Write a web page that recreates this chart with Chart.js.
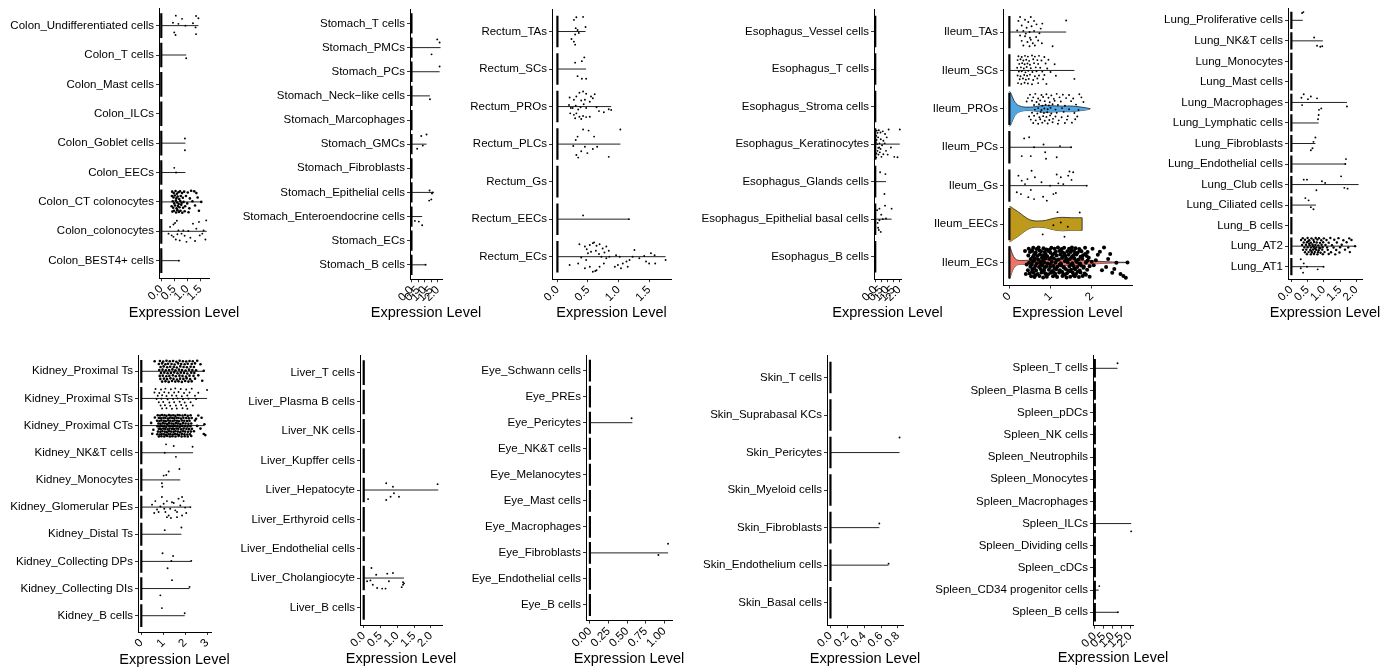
<!DOCTYPE html>
<html><head><meta charset="utf-8">
<script src="https://cdn.jsdelivr.net/npm/chart.js@4.4.1/dist/chart.umd.min.js"></script>
<style>
html,body{margin:0;padding:0;background:#fff;width:1384px;height:668px;overflow:hidden;position:relative}
canvas{position:absolute}
</style></head><body>
<script>
// ---------- DATA (points are flat pairs: expression value, vertical jitter in category units) ----------
const xTitle = "Expression Level";
const colonCells = ["Colon_Undifferentiated cells","Colon_T cells","Colon_Mast cells","Colon_ILCs","Colon_Goblet cells","Colon_EECs","Colon_CT colonocytes","Colon_colonocytes","Colon_BEST4+ cells"];
const colonMax = [1.43,0.96,0,0,0.93,0.93,1.54,1.75,0.68];
const colonTicks = [0,0.5,1,1.5];
const colonTickLabels = ["0.0","0.5","1.0","1.5"];
const colonPts = [
 [.56,-.34,.80,-.23,1.34,-.33,1.43,-.25,.45,-.10,.66,-.06,.93,0,1.22,-.08,1.32,.06,.50,.23,.55,.32,1.34,.29],
 [.96,.11],[],[],
 [.91,-.16,.91,.24],
 [.50,-.16,.57,0],
 [.42,-.35,.48,-.3,.55,-.37,.6,-.28,.66,-.33,.72,-.36,.8,-.3,.88,-.35,1.02,-.32,1.15,-.38,1.27,-.36,1.35,-.3,
  .41,-.2,.47,-.15,.52,-.22,.58,-.12,.63,-.18,.69,-.1,.75,-.2,.83,-.14,.95,-.2,1.1,-.12,1.4,-.15,
  .44,-.02,.5,.05,.56,-.05,.61,.02,.67,.07,.73,-.03,.78,.04,.86,0,1.0,.05,1.2,-.02,1.54,0,
  .4,.15,.46,.2,.53,.12,.59,.22,.64,.14,.7,.18,.77,.1,.84,.2,.92,.15,1.08,.22,1.3,.12,
  .43,.33,.49,.3,.57,.36,.62,.28,.68,.34,.74,.3,.81,.37,.9,.32,1.05,.35,1.45,.3],
 [.34,-.15,.47,-.23,.53,-.28,.66,-.03,.85,-.03,1.04,-.01,1.22,-.26,1.45,-.32,1.73,-.37,1.63,-.03,1.58,.08,1.70,.28,.47,.19,.56,.28,.71,.31,.78,.08,.97,.36,1.12,.22,1.48,.14,1.35,-.09,.28,.08,.40,.14,.6,-.36,.9,.15,1.3,.33,.62,.1],
 [.68,0]
];

const stomachCells = ["Stomach_T cells","Stomach_PMCs","Stomach_PCs","Stomach_Neck\u2212like cells","Stomach_Marcophages","Stomach_GMCs","Stomach_Fibroblasts","Stomach_Epithelial cells","Stomach_Enteroendocrine cells","Stomach_ECs","Stomach_B cells"];
const stomachMax = [0,2.2,2.13,1.4,0,1.14,0,1.62,0.81,0,1.07];
const stomachTicks = [0,0.5,1,1.5,2];
const stomachTickLabels = ["0.0","0.5","1.0","1.5","2.0"];
const stomachPts = [
 [],[1.95,-.34,2.13,-.21,1.52,.28],[2.13,-.22],[1.4,.14],[],
 [.74,-.34,1.14,-.4,.86,.06,.43,.19],[],
 [1.37,-.08,1.55,.04,1.5,.29,1.34,.34,1.62,0],
 [.26,.18,.56,.21,.81,.36],[],[1.07,0]
];

const rectumCells = ["Rectum_TAs","Rectum_SCs","Rectum_PROs","Rectum_PLCs","Rectum_Gs","Rectum_EECs","Rectum_ECs"];
const rectumMax = [0.46,0.47,0.88,1.03,0,1.17,1.77];
const rectumTicks = [0,0.5,1,1.5];
const rectumTickLabels = ["0.0","0.5","1.0","1.5"];
const rectumPts = [
 [.27,-.31,.31,-.38,.42,-.39,.46,-.12,.3,-.09,.35,.04,.29,.08,.23,.2,.27,.27,.29,.35,.33,-.04],
 [.29,-.17,.4,-.21,.44,-.31,.33,.19,.4,.26,.47,.26],
 [.2,-.24,.31,-.27,.36,-.37,.42,-.4,.47,-.34,.55,-.27,.61,-.33,.27,-.18,.39,-.16,.45,-.18,.53,-.13,.19,-.04,.22,.04,.25,.04,.3,-.02,.38,.02,.47,.04,.64,.02,.68,.12,.84,.07,.88,.09,.76,.15,.21,.18,.27,.22,.31,.18,.36,.27,.42,.25,.47,.28,.29,.31,.39,.33,.53,.27,.34,.08,.43,-.06,.58,-.22],
 [.42,-.39,.51,-.36,1.03,-.39,.33,-.2,.6,-.2,.3,-.11,.26,.05,.45,.07,.65,.07,.58,.13,.39,.19,.49,.24,.31,.29,.34,.36,.84,.34],
 [],
 [.42,-.1,1.17,0],
 [.36,-.33,.45,-.27,.48,-.2,.53,-.31,.58,-.36,.64,-.29,.69,-.33,.74,-.22,.8,-.27,.5,-.09,.55,-.13,.63,-.16,.68,-.07,.72,0,.77,-.11,.84,-.16,.39,.02,.47,.09,.2,.22,.34,.18,.45,.31,.53,.27,.58,.4,.64,.36,.69,.27,.76,.18,.8,.04,.85,0,.96,-.04,1.02,0,.99,.22,1.07,.18,1.13,.13,.94,.27,1.04,.31,1.15,.27,1.18,.09,1.23,0,1.26,-.18,1.34,.04,1.42,-.02,1.45,.13,1.53,-.09,1.59,-.04,1.5,.18,1.6,.18,1.77,.09,.62,.38,.6,-.38]
];

const esophagusCells = ["Esophagus_Vessel cells","Esophagus_T cells","Esophagus_Stroma cells","Esophagus_Keratinocytes","Esophagus_Glands cells","Esophagus_Epithelial basal cells","Esophagus_B cells"];
const esophagusMax = [0,0,0,2.05,0.9,1.37,0];
const esophagusTicks = [0,0.5,1,1.5,2];
const esophagusTickLabels = ["0.0","0.5","1.0","1.5","2.0"];
const esophagusPts = [
 [],[],[],
 [.13,-.36,.3,-.37,.44,-.31,.63,-.34,1.12,-.39,2.05,-.39,.82,-.27,.08,-.22,.24,-.18,.46,-.13,.68,-.09,.96,-.18,.16,0,.35,-.02,.57,.03,.79,-.02,.19,.18,.38,.22,.27,.28,.52,.34,.68,.27,1.04,.28,1.59,.34,1.86,.35,.08,.36,.33,.09,.11,-.11,.44,.13,.9,.18,1.31,.09,.2,-.3,.1,.25,.25,.1,.05,-.05],
 [.41,-.25,.85,-.2,.77,.33],
 [.16,-.24,.35,-.28,.82,-.36,1.37,-.28,.9,-.02,.63,0,.35,.03,.3,.29,.46,.34,.24,.23,.2,.1,.5,-.12],
 []
];

const ileumCells = ["Ileum_TAs","Ileum_SCs","Ileum_PROs","Ileum_PCs","Ileum_Gs","Ileum_EECs","Ileum_ECs"];
const ileumMax = [1.38,1.58,1.96,1.5,1.88,1.76,2.87];
const ileumTicks = [0,1,2];
const ileumTickLabels = ["0","1","2"];
const ileumPts = [
 [.26,-.39,.52,-.39,.38,-.32,.46,-.26,.6,-.29,.66,-.2,.8,-.22,.3,-.17,.42,-.11,.54,-.15,.34,-.03,.49,0,.6,-.03,.73,.03,.26,.09,.38,.11,.5,.15,.65,.13,.3,.23,.44,.26,.57,.29,.7,.22,.34,.35,.49,.37,1.05,.37,1.38,-.3,.22,-.29,.19,-.04,.76,-.09,.4,.04,.62,.35,.79,.29,.52,.2],
 [.22,-.37,.3,-.35,.38,-.38,.45,-.36,.55,-.39,.62,-.36,.72,-.38,.85,-.35,
  .2,-.27,.27,-.29,.34,-.26,.41,-.28,.48,-.25,.58,-.29,.68,-.27,.78,-.26,.95,-.28,
  .24,-.17,.31,-.19,.37,-.16,.44,-.18,.5,-.15,.6,-.19,.7,-.17,.88,-.18,1.1,-.16,
  .19,-.07,.28,-.08,.35,-.05,.42,-.09,.52,-.06,.64,-.08,.75,-.07,.92,-.05,
  .23,.03,.3,.02,.39,.05,.46,.01,.56,.04,.66,.02,.8,.03,1.0,.04,
  .2,.13,.27,.15,.36,.12,.43,.14,.5,.11,.62,.15,.72,.13,.85,.12,1.13,.14,
  .25,.23,.33,.21,.4,.24,.47,.22,.58,.25,.68,.21,.82,.23,1.58,.22,
  .21,.33,.29,.35,.37,.32,.45,.34,.55,.36,.7,.33,.9,.35],
 [.5,-.37,.63,-.39,.78,-.36,.9,-.38,1.02,-.35,1.15,-.39,1.3,-.37,1.45,-.36,1.7,-.38,
  .45,-.28,.58,-.3,.7,-.27,.82,-.31,.95,-.29,1.08,-.26,1.22,-.3,1.38,-.28,1.55,-.27,1.75,-.3,
  .42,-.19,.55,-.21,.66,-.18,.75,-.22,.86,-.2,.98,-.17,1.1,-.21,1.25,-.19,1.5,-.2,1.8,-.18,
  .6,-.1,.72,-.12,.8,-.08,.88,-.11,.96,-.09,1.05,-.12,1.18,-.1,1.35,-.08,1.62,-.11,
  .62,.02,.7,-.02,.78,.03,.85,-.01,.93,.01,1.0,-.03,1.12,.02,1.28,-.02,1.45,.01,1.68,.03,
  .55,.1,.68,.12,.76,.08,.84,.11,.92,.09,1.02,.12,1.15,.1,1.32,.08,1.58,.11,
  .48,.2,.6,.18,.73,.22,.82,.19,.9,.21,.99,.17,1.12,.2,1.27,.22,1.42,.19,1.65,.2,
  .52,.28,.64,.3,.75,.27,.86,.31,.97,.29,1.06,.26,1.2,.3,1.4,.28,1.6,.27,
  .58,.37,.7,.39,.8,.36,.93,.38,1.05,.35,1.18,.39,1.35,.37,1.52,.36],
 [.36,-.23,.48,-.26,.6,0,.83,-.07,1.23,-.03,.3,.23,.52,.23,.87,.13,.89,.3,1.15,.26,1.5,0],
 [.22,-.26,.3,-.13,.38,-.04,.18,.17,.28,.22,.46,.3,.52,.11,.6,.35,.78,-.09,.82,.29,1.15,-.29,1.25,-.22,1.19,-.06,1.31,-.04,1.07,.22,1.13,.19,1.46,-.37,1.55,-.35,1.51,-.15,1.43,-.26,1.88,0,.62,-.22,.44,-.17,.99,0,.91,.39,.54,-.39],
 [1.17,-.31,1.71,-.3,1.25,-.04,1.07,.03,1.42,.07,.81,.27,1.34,.33],
 [.47,-.36,.58,-.38,.66,-.35,.71,-.39,.83,-.37,.9,-.34,1.02,-.38,1.1,-.36,1.18,-.39,1.27,-.35,1.33,-.38,1.45,-.36,1.52,-.39,1.61,-.37,1.7,-.35,1.84,-.38,2.02,-.36,2.3,-.39,
  .5,-.27,.55,-.3,.64,-.26,.77,-.29,.86,-.27,.95,-.3,1.0,-.25,1.13,-.28,1.22,-.3,1.3,-.26,1.41,-.29,1.49,-.27,1.57,-.3,1.66,-.26,1.75,-.29,1.9,-.27,2.2,-.28,
  .46,-.18,.6,-.2,.68,-.17,.74,-.21,.81,-.19,.92,-.16,1.05,-.2,1.15,-.18,1.24,-.21,1.36,-.17,1.44,-.2,1.55,-.18,1.63,-.21,1.79,-.19,1.88,-.17,2.15,-.2,2.45,-.22,
  .52,-.09,.62,-.11,.7,-.08,.79,-.12,.88,-.1,.97,-.09,1.08,-.11,1.2,-.08,1.28,-.12,1.38,-.1,1.47,-.09,1.58,-.11,1.68,-.08,1.77,-.1,1.93,-.12,2.4,-.09,2.1,-.06,
  .48,.01,.57,-.02,.67,.02,.75,-.01,.85,0,.93,.03,1.03,-.02,1.12,.01,1.25,.02,1.35,-.03,1.42,0,1.53,.02,1.64,-.01,1.72,.03,1.86,0,2.0,-.02,2.6,.01,2.87,0,
  .51,.11,.63,.09,.72,.12,.8,.08,.9,.1,.99,.12,1.07,.09,1.17,.11,1.26,.08,1.32,.12,1.46,.1,1.56,.09,1.65,.12,1.74,.08,1.81,.11,1.95,.1,2.05,.07,2.35,.12,
  .45,.2,.56,.18,.65,.21,.76,.17,.84,.2,.96,.19,1.04,.22,1.14,.18,1.23,.2,1.37,.17,1.43,.21,1.5,.19,1.6,.18,1.71,.21,1.89,.19,2.25,.2,2.55,.17,
  .49,.29,.59,.27,.69,.3,.78,.26,.87,.28,.94,.31,1.01,.27,1.11,.29,1.21,.26,1.31,.3,1.4,.28,1.54,.27,1.62,.3,1.73,.26,1.83,.29,2.5,.27,2.7,.3,
  .53,.36,.61,.38,.73,.35,.82,.39,.91,.37,1.06,.36,1.16,.38,1.29,.35,1.39,.39,1.48,.37,1.59,.36,1.69,.38,1.78,.35,1.95,.37,2.77,.35,2.83,.4,.4,.3,.38,-.3,.42,.05,
  .55,-.32,.73,-.31,.98,-.33,1.24,-.32,1.5,-.33,1.72,-.31,.62,-.23,.88,-.22,1.1,-.24,1.34,-.23,1.6,-.24,1.84,-.22,
  .57,-.14,.84,-.15,1.02,-.13,1.3,-.15,1.52,-.14,1.73,-.15,.6,-.05,.82,-.04,1.15,-.06,1.4,-.05,1.62,-.04,1.9,-.05,
  .54,.06,.77,.05,1.0,.04,1.22,.06,1.5,.05,1.7,.04,.6,.15,.86,.14,1.1,.15,1.33,.14,1.58,.16,1.8,.14,
  .55,.24,.8,.23,1.07,.25,1.28,.24,1.47,.23,1.66,.24,.63,.33,.89,.32,1.12,.33,1.35,.32,1.56,.33,1.86,.32]
];
const ileumPROsViolin = [0,.46, .03,.42, .07,.32, .11,.22, .16,.14, .22,.09, .3,.06, .4,.045, .5,.045, .6,.055, .7,.07, .8,.085, .9,.09, 1.0,.085, 1.15,.075, 1.3,.07, 1.45,.075, 1.6,.065, 1.75,.045, 1.88,.025, 1.96,.004];
const ileumEECsViolin = [0,.46, .05,.44, .1,.4, .2,.33, .3,.25, .4,.17, .5,.11, .6,.085, .7,.08, .8,.085, .9,.1, 1.0,.13, 1.1,.155, 1.2,.17, 1.3,.175, 1.4,.17, 1.5,.165, 1.6,.165, 1.7,.165, 1.76,.165];
const ileumECsViolin = [0,.43, .03,.36, .06,.26, .1,.16, .15,.09, .2,.06, .3,.05, .5,.06, .7,.07, .9,.08, 1.1,.085, 1.3,.08, 1.5,.075, 1.7,.065, 1.9,.05, 2.1,.035, 2.3,.022, 2.5,.013, 2.7,.006, 2.87,.002];

const lungCells = ["Lung_Proliferative cells","Lung_NK&T cells","Lung_Monocytes","Lung_Mast cells","Lung_Macrophages","Lung_Lymphatic cells","Lung_Fibroblasts","Lung_Endothelial cells","Lung_Club cells","Lung_Ciliated cells","Lung_B cells","Lung_AT2","Lung_AT1"];
const lungMax = [0.35,0.97,0,0,1.71,0.84,0.74,1.68,2.07,0.76,0,1.96,0.99];
const lungTicks = [0,0.5,1,1.5,2];
const lungTickLabels = ["0.0","0.5","1.0","1.5","2.0"];
const lungPts = [
 [.33,-.36,.37,-.4],
 [.7,-.16,.79,.24,.89,.29,.95,.26],
 [],[],
 [.38,-.4,.31,-.23,.51,-.16,.6,-.29,.79,-.2,.33,.13,1.71,.2,.92,.29,.85,.36],
 [.84,-.39,.82,-.18],
 [.74,-.29,.68,-.08,.65,.23,.6,.33],
 [1.68,-.24,1.66,0],
 [.38,-.24,.48,-.24,.94,-.16,1.04,-.08,1.53,-.4,1.63,.16,1.73,.2,.77,.28],
 [.43,-.34,.53,-.23,.6,.1,.68,.2],
 [],
 [.35,-.39,.5,-.4,.62,-.38,.75,-.4,.85,-.39,1.0,-.38,1.2,-.4,1.45,-.39,1.78,-.38,
  .3,-.3,.42,-.31,.55,-.29,.68,-.3,.8,-.32,.92,-.29,1.08,-.3,1.32,-.31,1.6,-.29,1.85,-.3,
  .38,-.18,.48,-.19,.6,-.17,.7,-.2,.78,-.18,.88,-.16,.98,-.19,1.15,-.17,1.4,-.18,1.7,-.19,
  .33,-.06,.45,-.07,.56,-.05,.65,-.08,.74,-.06,.83,-.04,.93,-.07,1.05,-.06,1.25,-.05,1.55,-.07,1.96,0,
  .4,.06,.5,.05,.6,.07,.69,.04,.77,.06,.86,.08,.96,.05,1.1,.06,1.3,.07,1.5,.05,1.75,.06,
  .36,.18,.46,.17,.58,.19,.67,.16,.76,.18,.84,.2,.95,.17,1.12,.18,1.38,.19,1.65,.17,
  .42,.3,.53,.29,.63,.31,.72,.28,.82,.3,.9,.32,1.02,.29,1.22,.3,1.48,.31,1.8,.29,
  .48,.39,.6,.4,.7,.38,.8,.4,.97,.39,1.15,.38,1.35,.4,
  .55,-.12,.66,.0,.73,.12,.62,.24,.88,.1,.52,-.24],
 [.29,-.36,.38,-.16,.48,0,.29,.08,.36,.29,.81,.13,.99,0]
];

const kidneyCells = ["Kidney_Proximal Ts","Kidney_Proximal STs","Kidney_Proximal CTs","Kidney_NK&T cells","Kidney_Monocytes","Kidney_Glomerular PEs","Kidney_Distal Ts","Kidney_Collecting DPs","Kidney_Collecting DIs","Kidney_B cells"];
const kidneyMax = [2.85,3.0,2.88,2.36,1.78,2.24,1.83,2.28,2.2,1.98];
const kidneyTicks = [0,1,2,3];
const kidneyTickLabels = ["0","1","2","3"];
const kidneyPts = [
 [.85,-.38,1.0,-.36,1.15,-.39,1.3,-.37,1.45,-.38,1.6,-.35,1.75,-.39,1.9,-.37,2.05,-.36,2.2,-.38,2.35,-.37,2.55,-.39,.61,-.37,
  .8,-.27,.95,-.29,1.1,-.26,1.22,-.28,1.38,-.27,1.52,-.25,1.68,-.29,1.82,-.27,1.98,-.26,2.12,-.28,2.3,-.27,2.45,-.29,2.7,-.26,
  .88,-.16,1.02,-.18,1.18,-.15,1.32,-.17,1.48,-.16,1.62,-.14,1.78,-.18,1.93,-.16,2.08,-.15,2.25,-.17,2.4,-.16,
  .82,-.05,.97,-.06,1.12,-.04,1.27,-.05,1.42,-.07,1.56,-.04,1.72,-.06,1.86,-.05,2.02,-.03,2.18,-.06,2.33,-.05,2.5,-.04,2.85,-.02,
  .9,.06,1.05,.05,1.2,.07,1.35,.06,1.5,.04,1.65,.07,1.8,.05,1.95,.06,2.1,.08,2.28,.05,2.42,.06,
  .84,.17,.98,.16,1.14,.18,1.28,.17,1.44,.15,1.58,.18,1.74,.16,1.88,.17,2.04,.19,2.2,.16,2.38,.17,2.6,.15,
  .87,.28,1.03,.27,1.17,.29,1.33,.26,1.47,.28,1.63,.3,1.77,.27,1.92,.28,2.07,.26,2.23,.29,2.45,.27,
  .95,.38,1.1,.37,1.25,.39,1.4,.36,1.55,.38,1.7,.37,1.85,.39,2.0,.36,2.15,.38,2.3,.37,2.78,.35],
 [.65,-.35,.9,-.33,1.1,-.36,1.35,-.34,1.55,-.37,1.8,-.35,2.05,-.33,2.3,-.36,3.0,-.31,
  .6,-.22,.82,-.2,1.05,-.23,1.25,-.21,1.5,-.22,1.7,-.24,1.95,-.2,2.2,-.22,2.6,-.21,
  .75,-.1,.95,-.12,1.15,-.09,1.4,-.11,1.6,-.1,1.85,-.08,2.1,-.11,2.45,-.1,
  .7,.02,.92,.01,1.2,.03,1.45,.02,1.65,0,1.9,.03,2.15,.01,2.5,.02,
  .8,.14,1.0,.13,1.28,.15,1.5,.14,1.75,.12,1.98,.15,2.25,.14,
  .88,.26,1.08,.25,1.32,.27,1.58,.26,1.82,.24,2.05,.27,2.35,.26,
  .95,.37,1.15,.36,1.4,.38,1.62,.37,1.88,.36,2.1,.38],
 [.75,-.38,.86,-.37,.95,-.39,1.06,-.38,1.15,-.36,1.26,-.39,1.35,-.37,1.46,-.38,1.55,-.36,1.66,-.39,1.75,-.38,1.88,-.37,2.0,-.39,2.12,-.36,2.25,-.38,2.6,-.37,
  .8,-.28,.9,-.27,1.01,-.29,1.1,-.28,1.21,-.26,1.3,-.29,1.41,-.28,1.5,-.27,1.61,-.29,1.7,-.28,1.81,-.26,1.92,-.29,2.05,-.28,2.17,-.27,2.3,-.28,2.75,-.29,
  .72,-.18,.83,-.17,.92,-.19,1.03,-.18,1.12,-.16,1.23,-.19,1.32,-.18,1.43,-.17,1.52,-.19,1.63,-.18,1.72,-.16,1.85,-.19,1.96,-.18,2.09,-.17,2.2,-.18,2.45,-.19,
  .78,-.08,.87,-.07,.98,-.09,1.07,-.08,1.18,-.06,1.27,-.09,1.38,-.08,1.47,-.07,1.58,-.09,1.67,-.08,1.78,-.06,1.9,-.09,2.02,-.08,2.15,-.07,2.28,-.08,2.88,-.05,
  .74,.02,.85,.03,.94,.01,1.05,.02,1.14,.04,1.25,.01,1.34,.02,1.45,.03,1.54,.01,1.65,.02,1.76,.04,1.86,.01,1.98,.02,2.11,.03,2.24,.02,2.55,.01,
  .8,.12,.89,.13,1.0,.11,1.09,.12,1.2,.14,1.29,.11,1.4,.12,1.49,.13,1.6,.11,1.69,.12,1.82,.14,1.93,.11,2.06,.12,2.18,.13,2.31,.12,2.7,.11,
  .76,.22,.87,.23,.96,.21,1.07,.22,1.16,.24,1.27,.21,1.36,.22,1.47,.23,1.56,.21,1.67,.22,1.78,.24,1.9,.21,2.0,.22,2.13,.23,2.26,.22,2.4,.21,
  .73,.32,.84,.33,.93,.31,1.04,.32,1.13,.34,1.24,.31,1.33,.32,1.44,.33,1.53,.31,1.64,.32,1.73,.34,1.85,.31,1.97,.32,2.1,.33,2.22,.32,2.85,.31,
  .8,.4,.92,.39,1.05,.4,1.18,.38,1.3,.4,1.42,.39,1.56,.4,1.7,.38,1.84,.4,1.98,.39,2.12,.4,2.28,.38,
  .45,-.1,.55,.15,.5,.3,.62,-.3,2.92,.35,2.5,-.25],
 [1.13,-.31,1.48,-.25,2.34,-.22,1.07,0,1.58,.15],
 [1.74,-.4,1.25,-.31,1.14,-.18,1.02,-.16,.94,.12,.96,.25],
 [.49,-.09,.64,-.22,.72,.09,.79,.18,.94,-.37,1.02,-.12,1.1,.18,1.17,.37,1.25,.31,1.32,.06,1.4,-.18,1.48,-.15,1.55,.12,1.63,.37,1.7,-.31,1.78,-.06,1.86,-.37,1.93,-.22,2.0,.02,2.05,.22,2.24,0,.87,-.02,1.17,-.22,1.35,.4,1.63,.18,1.86,.31,.59,.22,1.05,.06],
 [1.83,-.25,1.07,-.15],
 [.97,-.3,1.45,-.2,1.37,-.02,1.2,.25,2.28,-.02],
 [1.4,-.31,.87,.25,2.2,-.06],
 [.94,-.28,1.98,-.09]
];

const liverCells = ["Liver_T cells","Liver_Plasma B cells","Liver_NK cells","Liver_Kupffer cells","Liver_Hepatocyte","Liver_Erthyroid cells","Liver_Endothelial cells","Liver_Cholangiocyte","Liver_B cells"];
const liverMax = [0,0,0,0,2.22,0,0,1.2,0];
const liverTicks = [0,0.5,1,1.5,2];
const liverTickLabels = ["0.0","0.5","1.0","1.5","2.0"];
const liverPts = [
 [],[],[],[],
 [.67,-.23,.87,-.11,2.2,-.2,.9,.11,.8,.23,.67,.34,1.05,.23,.13,.31],
 [],[],
 [.23,-.34,.37,-.11,.87,-.17,.7,-.15,.1,.11,.2,.08,.27,.23,.4,.34,.55,.36,.65,.36,.75,.11,1.17,.14,1.17,.23,1.13,.31,1.2,.18],
 []
];

const eyeCells = ["Eye_Schwann cells","Eye_PREs","Eye_Pericytes","Eye_NK&T cells","Eye_Melanocytes","Eye_Mast cells","Eye_Macrophages","Eye_Fibroblasts","Eye_Endothelial cells","Eye_B cells"];
const eyeMax = [0,0,0.57,0,0,0,0,1.05,0,0];
const eyeTicks = [0,0.25,0.5,0.75,1];
const eyeTickLabels = ["0.00","0.25","0.50","0.75","1.00"];
const eyePts = [[],[],[.56,-.17],[],[],[],[],[1.05,-.35,.92,.08],[],[]];

const skinCells = ["Skin_T cells","Skin_Suprabasal KCs","Skin_Pericytes","Skin_Myeloid cells","Skin_Fibroblasts","Skin_Endothelium cells","Skin_Basal cells"];
const skinMax = [0,0,0.82,0,0.58,0.69,0];
const skinTicks = [0,0.2,0.4,0.6,0.8];
const skinTickLabels = ["0.0","0.2","0.4","0.6","0.8"];
const skinPts = [[],[],[.82,-.4],[],[.58,-.11],[.69,-.04],[]];

const spleenCells = ["Spleen_T cells","Spleen_Plasma B cells","Spleen_pDCs","Spleen_NK cells","Spleen_Neutrophils","Spleen_Monocytes","Spleen_Macrophages","Spleen_ILCs","Spleen_Dividing cells","Spleen_cDCs","Spleen_CD34 progenitor cells","Spleen_B cells"];
const spleenMax = [1.28,0,0,0,0,0,0,2.05,0,0,0.22,1.3];
const spleenTicks = [0,0.5,1,1.5,2];
const spleenTickLabels = ["0.0","0.5","1.0","1.5","2.0"];
const spleenPts = [[1.28,-.23],[],[],[],[],[],[],[2.05,.35],[],[],[.25,-.18],[1.3,0]];

// ---------- LAYOUT ----------
const FONT = "'Liberation Sans', Arial, Helvetica, sans-serif";
const panels = [
 {cells:colonCells,max:colonMax,pts:colonPts,ticks:colonTicks,labels:colonTickLabels,xMin:-0.0875,xMax:1.8375,L:159,R:209,T:8.1,B:278.3,TY:313,dense:[6],denseR:1.3},
 {cells:stomachCells,max:stomachMax,pts:stomachPts,ticks:stomachTicks,labels:stomachTickLabels,xMin:-0.11,xMax:2.31,L:409.5,R:441,T:8.8,B:279.3,TY:313},
 {cells:rectumCells,max:rectumMax,pts:rectumPts,ticks:rectumTicks,labels:rectumTickLabels,xMin:-0.0885,xMax:1.8585,L:552.3,R:671.7,T:9.2,B:279.2,TY:313},
 {cells:esophagusCells,max:esophagusMax,pts:esophagusPts,ticks:esophagusTicks,labels:esophagusTickLabels,xMin:-0.1025,xMax:2.1525,L:874.3,R:901.7,T:9.2,B:279.2,TY:313},
 {cells:ileumCells,max:ileumMax,pts:ileumPts,ticks:ileumTicks,labels:ileumTickLabels,xMin:-0.155,xMax:2.98,L:1002.7,R:1132,T:8.7,B:285.5,TY:313,dense:[6],denseR:2.0,
  violins:[{cat:2,color:'#4EA7E2',prof:ileumPROsViolin},{cat:5,color:'#BE9A1C',prof:ileumEECsViolin},{cat:6,color:'#EE7468',prof:ileumECsViolin}]},
 {cells:lungCells,max:lungMax,pts:lungPts,ticks:lungTicks,labels:lungTickLabels,xMin:-0.1035,xMax:2.1735,L:1287.7,R:1361.7,T:8.4,B:279,TY:313,dense:[11],denseR:1.2},
 {cells:kidneyCells,max:kidneyMax,pts:kidneyPts,ticks:kidneyTicks,labels:kidneyTickLabels,xMin:-0.15,xMax:3.18,L:137.7,R:211,T:355,B:632,TY:660,dense:[0,2],denseR:1.3},
 {cells:liverCells,max:liverMax,pts:liverPts,ticks:liverTicks,labels:liverTickLabels,xMin:-0.111,xMax:2.331,L:360,R:441.5,T:355,B:625,TY:659},
 {cells:eyeCells,max:eyeMax,pts:eyePts,ticks:eyeTicks,labels:eyeTickLabels,xMin:-0.0525,xMax:1.1025,L:585.5,R:671,T:355,B:620.6,TY:659},
 {cells:skinCells,max:skinMax,pts:skinPts,ticks:skinTicks,labels:skinTickLabels,xMin:-0.041,xMax:0.861,L:826.5,R:902,T:355,B:625.2,TY:659},
 {cells:spleenCells,max:spleenMax,pts:spleenPts,ticks:spleenTicks,labels:spleenTickLabels,xMin:-0.1025,xMax:2.1525,L:1092.7,R:1132.7,T:355,B:625.6,TY:658}
];

function buildDatasets(p){
  const n=p.cells.length, zero=[], lines=[], sparse=[], dense=[];
  const violins=p.violins||[];
  for(let i=0;i<n;i++){
    zero.push({x:0,y:i-0.42},{x:0,y:i+0.42},{x:NaN,y:NaN});
    const hasV=violins.some(v=>v.cat===i);
    if(p.max[i]>0 && !hasV) lines.push({x:0,y:i},{x:p.max[i],y:i},{x:NaN,y:NaN});
    const arr=p.pts[i]||[];
    const tgt=(p.dense||[]).includes(i)?dense:sparse;
    for(let k=0;k+1<arr.length;k+=2) tgt.push({x:arr[k],y:i+arr[k+1]});
  }
  const ds=[
    {data:sparse,pointRadius:0.95,pointBackgroundColor:'#000',pointBorderWidth:0,showLine:false,order:0},
    {data:dense,pointRadius:p.denseR||1.3,pointBackgroundColor:'#000',pointBorderWidth:0,showLine:false,order:0},
    {data:zero,showLine:true,borderColor:'#000',borderWidth:2.2,pointRadius:0,spanGaps:false,order:1},
    {data:lines,showLine:true,borderColor:'#222',borderWidth:1,pointRadius:0,spanGaps:false,order:3}
  ];
  violins.forEach(v=>{
    const up=[],lo=[];
    for(let k=0;k+1<v.prof.length;k+=2){up.push({x:v.prof[k],y:v.cat-v.prof[k+1]});lo.push({x:v.prof[k],y:v.cat+v.prof[k+1]});}
    ds.push({data:up,showLine:true,fill:'+1',backgroundColor:v.color,borderColor:'#222',borderWidth:0.8,pointRadius:0,order:2,cubicInterpolationMode:'monotone'});
    ds.push({data:lo,showLine:true,fill:false,borderColor:'#222',borderWidth:0.8,pointRadius:0,order:2,cubicInterpolationMode:'monotone'});
    const last=up.length-1;
    ds.push({data:[up[last],lo[last]],showLine:true,borderColor:'#222',borderWidth:0.8,pointRadius:0,order:2});
  });
  return ds;
}

const YW=240, PADT=10, PADR=75;
function makeChart(p,W,H){
  const cv=document.createElement('canvas');
  cv.width=W;cv.height=H;cv.style.width=W+'px';cv.style.height=H+'px';
  document.body.appendChild(cv);
  const n=p.cells.length;
  const tickFont={family:FONT,size:11.5};
  const titlePlugin={id:'xtitle',afterDraw(c){
    const ctx=c.ctx, ca=c.chartArea;
    ctx.save();ctx.font='14.5px '+FONT;ctx.fillStyle='#000';ctx.textAlign='center';ctx.textBaseline='middle';
    ctx.fillText(xTitle,(ca.left+ca.right)/2,ca.bottom+(p.TY-p.B));ctx.restore();}};
  const chart=new Chart(cv,{type:'scatter',data:{datasets:buildDatasets(p)},plugins:[titlePlugin],options:{
    responsive:false,animation:false,devicePixelRatio:1,events:[],
    layout:{padding:{top:PADT,right:PADR,bottom:0,left:0}},
    plugins:{legend:{display:false},tooltip:{enabled:false}},
    scales:{
      x:{type:'linear',position:'bottom',min:p.xMin,max:p.xMax,
        afterBuildTicks:s=>{s.ticks=p.ticks.map(v=>({value:v}));},
        afterFit:s=>{s.height=p.TY-p.B+10;},
        ticks:{autoSkip:false,minRotation:45,maxRotation:45,padding:1,color:'#000',font:tickFont,
          callback:(v)=>{const i=p.ticks.findIndex(t=>Math.abs(t-v)<1e-9);return i>=0?p.labels[i]:'';}},
        grid:{display:true,drawOnChartArea:false,drawTicks:true,tickLength:3,color:'#333',lineWidth:1},
        border:{display:true,color:'#000',width:1},
        title:{display:false}
      },
      y:{type:'linear',reverse:true,min:-0.6,max:n-0.4,
        afterBuildTicks:s=>{s.ticks=p.cells.map((c,i)=>({value:i}));},
        afterFit:s=>{s.width=YW;},
        ticks:{autoSkip:false,padding:2,color:'#000',font:tickFont,callback:(v)=>p.cells[Math.round(v)]},
        grid:{display:true,drawOnChartArea:false,drawTicks:true,tickLength:3,color:'#333',lineWidth:1},
        border:{display:true,color:'#000',width:1}
      }
    }}});
  return {chart,cv};
}

panels.forEach(p=>{
  const plotW=p.R-p.L, plotH=p.B-p.T;
  let W=Math.round(YW+plotW+PADR), H=Math.round(PADT+plotH+(p.TY-p.B+10));
  let r=makeChart(p,W,H);
  let ca=r.chart.chartArea;
  const dw=Math.round(plotW-(ca.right-ca.left)), dh=Math.round(plotH-(ca.bottom-ca.top));
  if(dw!==0||dh!==0){r.chart.destroy();r.cv.remove();W+=dw;H+=dh;r=makeChart(p,W,H);ca=r.chart.chartArea;}
  r.cv.style.left=(p.L-ca.left)+'px';
  r.cv.style.top=(p.T-ca.top)+'px';
});
</script>
</body></html>
